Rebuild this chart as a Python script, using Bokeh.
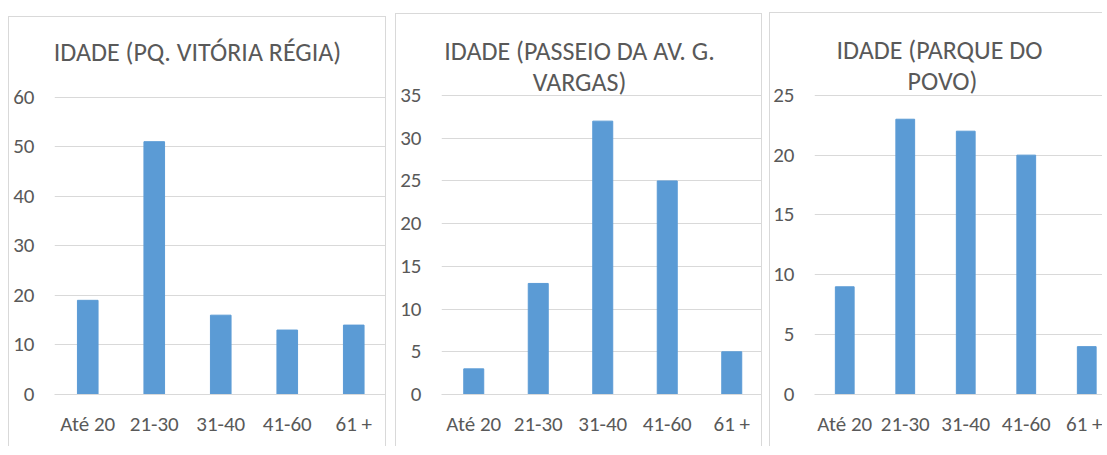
from bokeh.plotting import figure
from bokeh.layouts import row
from bokeh.models import Range1d, FixedTicker, Label
from bokeh.embed import file_html
from bokeh.resources import INLINE

# ---- data ----
categories = ["Até 20", "21-30", "31-40", "41-60", "61 +"]
vitoria_regia = [19, 51, 16, 13, 14]
passeio_vargas = [3, 13, 32, 25, 5]
parque_povo = [9, 23, 22, 20, 4]

title_vitoria = ["IDADE (PQ. VITÓRIA RÉGIA)"]
title_vargas = ["IDADE (PASSEIO DA AV. G.", "VARGAS)"]
title_povo = ["IDADE  (PARQUE DO", "POVO)"]

y_max_vitoria, y_step_vitoria = 60, 10
y_max_vargas, y_step_vargas = 35, 5
y_max_povo, y_step_povo = 25, 5

# ---- styles ----
BAR = "#5B9BD5"
TXT = "#595959"
GRID = "#D9D9D9"
FONT = "Carlito, Lato"


def panel(values, title_lines, ymax, ystep, width, height, right_border,
          mb_left, mb_right, mb_bottom, plot_h, cat_px, margin,
          title_x, title_ys):
    idx = list(range(len(categories)))
    frame_h = height - mb_bottom
    frame_w = width - mb_left - mb_right
    y_end = ymax * frame_h / plot_h          # room above ymax for the title
    x_end = -0.5 + frame_w / cat_px
    p = figure(width=width, height=height,
               x_range=Range1d(-0.5, x_end), y_range=Range1d(0, y_end),
               output_backend="svg", toolbar_location=None,
               min_border_left=mb_left, min_border_right=mb_right,
               min_border_top=0, min_border_bottom=mb_bottom)
    p.margin = margin
    p.outline_line_color = None
    p.background_fill_color = "white"
    p.border_fill_color = "white"
    st = {"border-top": f"1px solid {GRID}", "border-left": f"1px solid {GRID}"}
    if right_border:
        st["border-right"] = f"1px solid {GRID}"
    p.styles = st

    p.vbar(x=idx, top=values, width=0.31, color=BAR)

    yt = FixedTicker(ticks=list(range(0, ymax + 1, ystep)))
    p.yaxis.ticker = yt
    p.ygrid.ticker = yt
    p.ygrid.grid_line_color = GRID
    p.ygrid.grid_line_width = 1
    p.xgrid.grid_line_color = None

    for ax in (p.xaxis[0], p.yaxis[0]):
        ax.major_tick_line_color = None
        ax.minor_tick_line_color = None
        ax.major_tick_out = 0
        ax.major_tick_in = 0
        ax.minor_tick_out = 0
        ax.minor_tick_in = 0
        ax.major_label_text_font = FONT
        ax.major_label_text_font_size = "21px"
        ax.major_label_text_color = TXT

    p.yaxis.axis_line_color = None
    p.yaxis.major_label_standoff = 20

    p.xaxis.ticker = FixedTicker(ticks=idx)
    p.xaxis.major_label_overrides = {i: c for i, c in zip(idx, categories)}
    p.xaxis.axis_line_color = GRID
    p.xaxis.major_label_standoff = 16

    for line, ty in zip(title_lines, title_ys):
        p.add_layout(Label(x=title_x, y=ty, x_units="screen", y_units="screen",
                           text=line, text_align="center", text_baseline="middle",
                           text_font=FONT, text_font_size="26px", text_color=TXT))
    return p


p1 = panel(vitoria_regia, title_vitoria, y_max_vitoria, y_step_vitoria,
           378, 430, True, 45, 1, 51, 299, 66.5, (16, 0, 0, 8),
           143, [343])
p2 = panel(passeio_vargas, title_vargas, y_max_vargas, y_step_vargas,
           367, 433, True, 45, 0, 53, 299, 64.5, (13, 0, 0, 9),
           138, [344, 313])
p3 = panel(parque_povo, title_povo, y_max_povo, y_step_povo,
           333, 434, False, 44, 0, 52, 300, 60.5, (12, 0, 0, 7),
           128, [345, 314])

layout = row(p1, p2, p3, spacing=0)
layout.styles = {"background-color": "white"}

open("out.html", "w").write(file_html(layout, INLINE))
